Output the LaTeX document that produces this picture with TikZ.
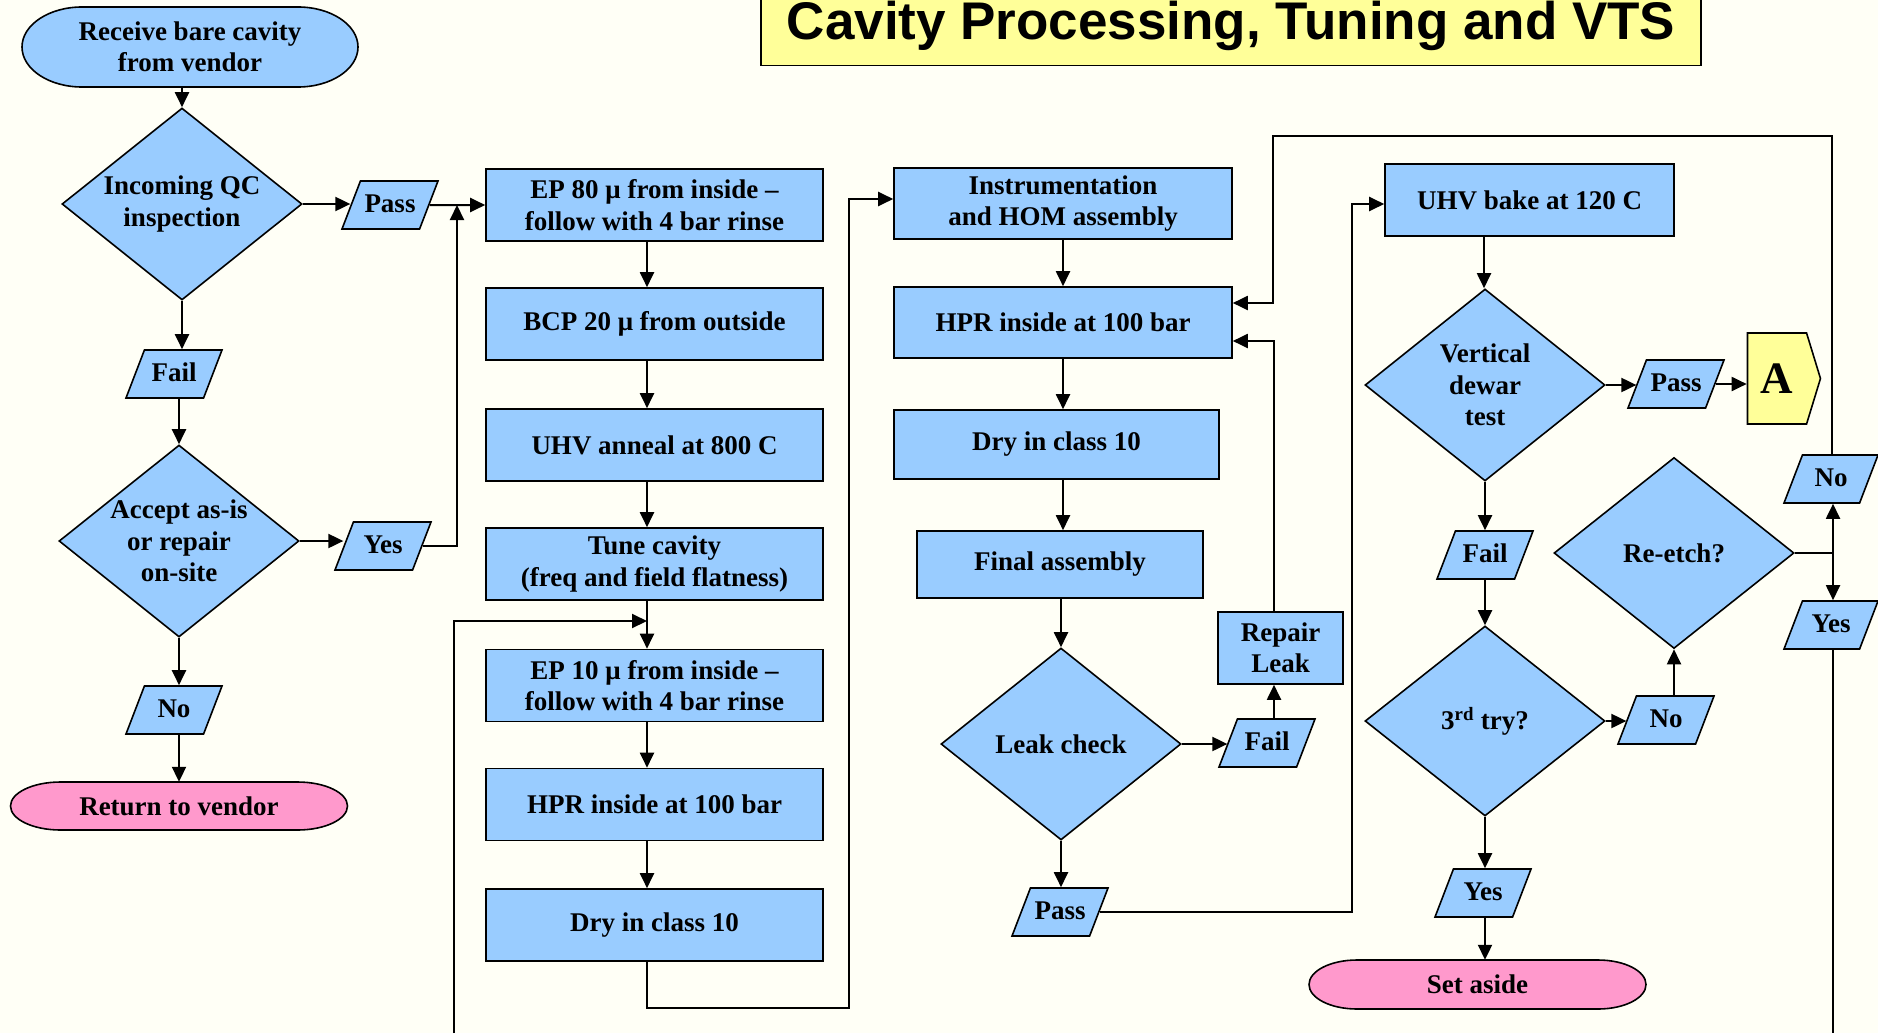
\documentclass[tikz,border=0pt]{standalone}
\usepackage{fontspec}
\setmainfont{Liberation Serif}
\newfontfamily\titlefont{Liberation Sans}
\usetikzlibrary{shapes.geometric,shapes.symbols,arrows.meta}
\definecolor{pagebg}{RGB}{255,255,246}
\definecolor{boxblue}{RGB}{153,204,255}
\definecolor{termpink}{RGB}{255,153,204}
\definecolor{noteyellow}{RGB}{255,255,153}
% cx cy halfwidth halfheight xradius colour
\newcommand{\termshape}[6]{%
  \filldraw[fill=#6, draw=black, line width=1.6pt]
    ({#1-#3+#5},{#2-#4}) -- ({#1+#3-#5},{#2-#4})
    arc[start angle=90, end angle=-90, x radius=#5pt, y radius=#4pt]
    -- ({#1-#3+#5},{#2+#4})
    arc[start angle=270, end angle=90, x radius=#5pt, y radius=#4pt] -- cycle;}
\begin{document}
\begin{tikzpicture}[x=1pt,y=-1pt,
  txt/.style={font=\bfseries\fontsize{27}{31.5}\selectfont, align=center, inner sep=0pt},
  base/.style={txt, draw=black, line width=1.6pt},
  proc/.style={base, rectangle, fill=boxblue, minimum width=337pt, minimum height=72pt},
  dec/.style={base, diamond, fill=boxblue, aspect=1.25, inner sep=-4pt, minimum width=240pt, minimum height=192pt},
  pgram/.style={base, trapezium, trapezium left angle=69, trapezium right angle=111, trapezium stretches body=true,
                fill=boxblue, text height=19pt, text depth=5pt, inner ysep=12pt, inner xsep=4pt, minimum width=96pt},
  termtext/.style={txt, rectangle},
  arr/.style={draw=black, line width=2pt, -{Triangle[length=15pt,width=14pt]}},
  ln/.style={draw=black, line width=2pt},
]
\useasboundingbox (0,0) rectangle (1878,1033);
\fill[pagebg] (0,0) rectangle (1878,1033);

% title
\node[draw=black, fill=noteyellow, line width=1.6pt, minimum width=940pt, minimum height=68pt, inner sep=0pt,
      text height=38pt, text depth=21pt, font=\titlefont\bfseries\fontsize{53}{60}\selectfont]
      (title) at (1231,31.5) {Cavity Processing, Tuning and VTS};

% column 1
\termshape{190}{47}{168}{40}{60}{boxblue}
\node[termtext, minimum width=336pt, minimum height=80pt] (start) at (190,47) {Receive bare cavity\\from vendor};
\node[dec] (qc) at (182,204) {Incoming QC\\inspection};
\node[pgram] (pass1) at (390,205) {Pass};
\node[pgram] (fail1) at (174,374) {Fail};
\node[dec] (acc) at (179,541) {Accept as-is\\or repair\\on-site};
\node[pgram] (yes1) at (383,546) {Yes};
\node[pgram] (no1) at (174,710) {No};
\termshape{179}{806}{168.5}{24}{50}{termpink}
\node[termtext, minimum width=337pt, minimum height=48pt] (ret) at (179,806) {Return to vendor};

% column 2
\node[proc] (ep80) at (654.5,205) {EP 80 μ from inside –\\follow with 4 bar rinse};
\node[proc] (bcp) at (654.5,324) {BCP 20 μ from outside};
\node[proc] (anneal) at (654.5,445) {UHV anneal at 800 C};
\node[proc] (tune) at (654.5,564) {Tune cavity\\(freq and field flatness)};
\node[proc] (ep10) at (654.5,685.5) {EP 10 μ from inside –\\follow with 4 bar rinse};
\node[proc] (hpr1) at (654.5,804.5) {HPR inside at 100 bar};
\node[proc] (dry1) at (654.5,925) {Dry in class 10};

% column 3
\node[proc, minimum width=338pt, minimum height=71pt] (instr) at (1063,203.5) {Instrumentation\\and HOM assembly};
\node[proc, minimum width=338pt, minimum height=71pt] (hpr2) at (1063,322.5) {HPR inside at 100 bar};
\node[proc, minimum width=325pt, minimum height=69pt] (dry2) at (1056.5,444.5) {Dry in class 10};
\node[proc, minimum width=286pt, minimum height=67pt] (final) at (1060,564.5) {Final assembly};
\node[dec] (leak) at (1061,744) {Leak check};
\node[pgram] (failL) at (1267,743) {Fail};
\node[proc, minimum width=125pt, minimum height=72pt] (repair) at (1280.5,648) {Repair\\Leak};
\node[pgram] (passL) at (1060,912) {Pass};

% column 4
\node[proc, minimum width=289pt, minimum height=72pt] (bake) at (1529.5,200) {UHV bake at 120 C};
\node[dec] (dewar) at (1485,385) {Vertical\\dewar\\test};
\node[pgram] (passD) at (1676,384) {Pass};
\node[base, signal, signal to=east, signal pointer angle=146, fill=noteyellow, minimum width=73pt, minimum height=91pt,
      font=\bfseries\fontsize{45}{50}\selectfont] (A) at (1777,378.5) {A};
\node[pgram] (failD) at (1485,555) {Fail};
\node[dec, minimum height=190pt] (try3) at (1485,721) {3\textsuperscript{rd} try?};
\node[pgram] (noT) at (1666,720) {No};
\node[dec, minimum height=191pt] (reetch) at (1674,553) {Re-etch?};
\node[pgram, minimum width=94pt] (noR) at (1831,479) {No};
\node[pgram, minimum width=94pt] (yesR) at (1831,625) {Yes};
\node[pgram] (yes3) at (1483,893) {Yes};
\termshape{1477.5}{984.5}{168.5}{24.5}{48}{termpink}
\node[termtext, minimum width=337pt, minimum height=49pt] (setA) at (1477.5,984.5) {Set aside};

% helper coordinates
\coordinate (j1) at (457,205);
\coordinate (c2) at (647,0);
\coordinate (j2) at (647,621);
\coordinate (loopL) at (454,1033);
\coordinate (r2) at (849,1008);
\coordinate (c3) at (1063,0);
\coordinate (c4) at (1274,0);
\coordinate (c5) at (1352,0);
\coordinate (topL) at (1273,136);
\coordinate (c6) at (1832,0);
\coordinate (c7) at (1484,0);
\coordinate (j3) at (1833,553);
\coordinate (botR) at (1833,1033);
\coordinate (instrIn) at ([yshift=4.5pt]instr.west);
\coordinate (bakeIn) at ([yshift=-4pt]bake.west);
\coordinate (hprInA) at ([yshift=19.5pt]hpr2.east);
\coordinate (hprInB) at ([yshift=-18.5pt]hpr2.east);

% connectors column 1
\draw[arr] (qc.north |- start.south) -- (qc.north);
\draw[arr] (qc.east) -- (qc.east -| pass1.west);
\draw[arr] (pass1.east) -- (ep80.west);
\draw[arr] (qc.south) -- (qc.south |- fail1.north);
\draw[arr] (acc.north |- fail1.south) -- (acc.north);
\draw[arr] (acc.east) -- (acc.east -| yes1.west);
\draw[arr] (yes1.east) -| (j1);
\draw[arr] (acc.south) -- (acc.south |- no1.north);
\draw[arr] (ret.north |- no1.south) -- (ret.north);

% connectors column 2
\draw[arr] (c2 |- ep80.south) -- (c2 |- bcp.north);
\draw[arr] (c2 |- bcp.south) -- (c2 |- anneal.north);
\draw[arr] (c2 |- anneal.south) -- (c2 |- tune.north);
\draw[arr] (c2 |- tune.south) -- (c2 |- ep10.north);
\draw[arr] (loopL) |- (j2);
\draw[arr] (c2 |- ep10.south) -- (c2 |- hpr1.north);
\draw[arr] (c2 |- hpr1.south) -- (c2 |- dry1.north);
\draw[arr] (c2 |- dry1.south) |- (r2) |- (instrIn);

% connectors column 3
\draw[arr] (c3 |- instr.south) -- (c3 |- hpr2.north);
\draw[arr] (c3 |- hpr2.south) -- (c3 |- dry2.north);
\draw[arr] (c3 |- dry2.south) -- (c3 |- final.north);
\draw[arr] (leak.north |- final.south) -- (leak.north);
\draw[arr] (leak.east) -- (leak.east -| failL.west);
\draw[arr] (c4 |- failL.north) -- (c4 |- repair.south);
\draw[arr] (c4 |- repair.north) |- (hprInB);
\draw[arr] (leak.south) -- (leak.south |- passL.north);
\draw[arr] (passL.east) -| (c5 |- bakeIn) -- (bakeIn);
\draw[arr] (c6 |- noR.north) |- (topL) |- (hprInA);

% connectors column 4
\draw[arr] (c7 |- bake.south) -- (c7 |- dewar.north);
\draw[arr] (dewar.east) -- (dewar.east -| passD.west);
\draw[arr] (passD.east) -- (passD.east -| A.west);
\draw[arr] (dewar.south) -- (dewar.south |- failD.north);
\draw[arr] (try3.north |- failD.south) -- (try3.north);
\draw[arr] (try3.east) -- (try3.east -| noT.west);
\draw[arr] (reetch.south |- noT.north) -- (reetch.south);
\draw[ln] (reetch.east) -- (j3);
\draw[arr] (j3) -- (j3 |- noR.south);
\draw[arr] (j3) -- (j3 |- yesR.north);
\draw[ln] (j3 |- yesR.south) -- (botR);
\draw[arr] (try3.south) -- (try3.south |- yes3.north);
\draw[arr] (try3.south |- yes3.south) -- (try3.south |- setA.north);
\end{tikzpicture}
\end{document}
